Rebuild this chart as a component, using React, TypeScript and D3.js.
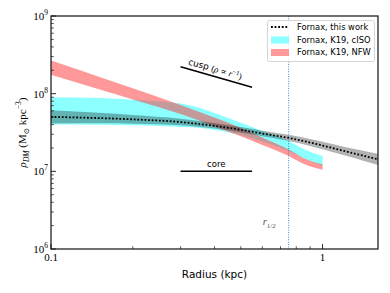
import React from "react";
import * as d3 from "d3";

// Fornax, this work (median + band)
const thisR = [0.1, 0.15, 0.2, 0.3, 0.4, 0.5, 0.6, 0.75, 0.9, 1.0, 1.2, 1.4, 1.6];
const thisMid = [5.02e7, 4.85e7, 4.67e7, 4.31e7, 3.85e7, 3.43e7, 3.07e7, 2.69e7, 2.35e7, 2.15e7, 1.83e7, 1.6e7, 1.43e7];
const thisHi = [6.12e7, 5.66e7, 5.3e7, 4.75e7, 4.18e7, 3.72e7, 3.33e7, 2.96e7, 2.61e7, 2.41e7, 2.08e7, 1.85e7, 1.68e7];
const thisLo = [4.12e7, 4.16e7, 4.11e7, 3.91e7, 3.55e7, 3.16e7, 2.83e7, 2.45e7, 2.12e7, 1.92e7, 1.61e7, 1.38e7, 1.21e7];

// K19 cISO
const isoR = [0.1, 0.15, 0.2, 0.25, 0.3, 0.35, 0.4, 0.5, 0.6, 0.75, 0.85, 1.0];
const isoHi = [8.97e7, 8.82e7, 8.38e7, 8.01e7, 7.45e7, 6.62e7, 5.62e7, 4.21e7, 3.3e7, 2.46e7, 1.94e7, 1.57e7];
const isoLo = [4.01e7, 3.98e7, 3.91e7, 3.83e7, 3.72e7, 3.63e7, 3.4e7, 2.94e7, 2.43e7, 1.83e7, 1.49e7, 1.17e7];

// K19 NFW
const nfwR = [0.1, 0.15, 0.2, 0.3, 0.4, 0.5, 0.6, 0.75, 0.85, 1.0];
const nfwHi = [2.67e8, 1.65e8, 1.17e8, 7.16e7, 4.92e7, 3.61e7, 2.73e7, 1.91e7, 1.49e7, 1.23e7];
const nfwLo = [1.75e8, 1.14e8, 8.44e7, 5.46e7, 3.78e7, 2.82e7, 2.19e7, 1.58e7, 1.25e7, 1.05e7];

const rHalf = 0.75;
const cuspR = [0.3, 0.55];
const cuspRho = [2.22e8, 1.21e8];
const coreR = [0.3, 0.55];
const coreRho = [1e7, 1e7];

const xMajor = [0.1, 1];
const xMinor = [0.2, 0.3, 0.4, 0.5, 0.6, 0.7, 0.8, 0.9];
const yMajorExp = [6, 7, 8, 9];
const legendLabels = ["Fornax, this work", "Fornax, K19, cISO", "Fornax, K19, NFW"];

const W = 390, H = 293;
const m = { left: 51, right: 12, top: 16, bottom: 44 };

const RED = "#ff2a2a";
const RED_OP = 0.48;
const CYAN = "#00ffff";
const CYAN_OP = 0.45;

export default function App() {
  const x = d3.scaleLog().domain([0.1, 1.6]).range([m.left, W - m.right]);
  const y = d3.scaleLog().domain([1e6, 1e9]).range([H - m.bottom, m.top]);

  const band = (rs: number[], lo: number[], hi: number[]) =>
    d3.area<number>()
      .x((_, i) => x(rs[i]))
      .y0((_, i) => y(lo[i]))
      .y1((_, i) => y(hi[i]))
      .curve(d3.curveMonotoneX)(rs) as string;

  const midLine = d3.line<number>()
    .x((_, i) => x(thisR[i]))
    .y((_, i) => y(thisMid[i]))
    .curve(d3.curveMonotoneX)(thisR) as string;

  const yMinor = y.ticks().filter(v => Math.abs(Math.log10(v) - Math.round(Math.log10(v))) > 1e-6);

  const x0 = m.left, x1 = W - m.right, y0 = H - m.bottom, y1 = m.top;
  const serif = "Liberation Serif, DejaVu Serif, serif";
  const sans = "DejaVu Sans, sans-serif";

  const cx0 = x(cuspR[0]), cy0 = y(cuspRho[0]), cx1 = x(cuspR[1]), cy1 = y(cuspRho[1]);
  const ang = Math.atan2(cy1 - cy0, cx1 - cx0) * 180 / Math.PI;

  return (
    <svg width={W} height={H} style={{ position: "absolute", left: 0, top: 0, background: "#fff" }}>
      <defs>
        <clipPath id="plot">
          <rect x={x0} y={y1} width={x1 - x0} height={y0 - y1} />
        </clipPath>
      </defs>
      <g clipPath="url(#plot)">
        <path d={band(isoR, isoLo, isoHi)} fill={CYAN} fillOpacity={CYAN_OP} />
        <path d={band(nfwR, nfwLo, nfwHi)} fill={RED} fillOpacity={RED_OP} />
        <path d={band(thisR, thisLo, thisHi)} fill="#000" fillOpacity={0.3} />
        <path d={midLine} fill="none" stroke="#000" strokeWidth={1.8} strokeDasharray="1.8,1.8" />
        <line x1={x(rHalf)} x2={x(rHalf)} y1={y1} y2={y0} stroke="#1f7fd0" strokeWidth={0.9} strokeDasharray="1,1.4" />
      </g>

      {/* cusp / core guides */}
      <line x1={cx0} y1={cy0} x2={cx1} y2={cy1} stroke="#000" strokeWidth={1.5} />
      <text transform={`translate(${(cx0 + cx1) / 2 - 2},${(cy0 + cy1) / 2 - 5}) rotate(${ang})`}
        textAnchor="middle" fontSize={9} fill="#000">
        <tspan fontFamily={sans}>cusp </tspan>
        <tspan fontFamily={serif}>(</tspan>
        <tspan fontFamily={serif} fontStyle="italic">ρ</tspan>
        <tspan fontFamily={serif}> ∝ </tspan>
        <tspan fontFamily={serif} fontStyle="italic">r</tspan>
        <tspan fontFamily={serif} fontSize={6.5} dy={-3.5}>−1</tspan>
        <tspan fontFamily={serif} dy={3.5}>)</tspan>
      </text>
      <line x1={x(coreR[0])} y1={y(coreRho[0])} x2={x(coreR[1])} y2={y(coreRho[1])} stroke="#000" strokeWidth={1.5} />
      <text x={(x(coreR[0]) + x(coreR[1])) / 2} y={y(coreRho[0]) - 4} textAnchor="middle"
        fontFamily={sans} fontSize={8.5}>core</text>

      <text x={x(rHalf) - 26} y={225} fontFamily={serif} fontSize={10.5} fill="#555">
        <tspan fontStyle="italic">r</tspan>
        <tspan fontSize={7} dy={2.5}>1/2</tspan>
      </text>

      {/* frame */}
      <rect x={x0} y={y1} width={x1 - x0} height={y0 - y1} fill="none" stroke="#111" strokeWidth={1.2} />

      {/* x ticks */}
      {xMajor.map(v => (
        <g key={"xM" + v}>
          <line x1={x(v)} x2={x(v)} y1={y0} y2={y0 - 5} stroke="#111" strokeWidth={0.9} />
          <text x={x(v)} y={y0 + 12} textAnchor="middle" fontFamily={serif} fontSize={11}>{v}</text>
        </g>
      ))}
      {xMinor.map(v => (
        <line key={"xm" + v} x1={x(v)} x2={x(v)} y1={y0} y2={y0 - 2.8} stroke="#111" strokeWidth={0.7} />
      ))}

      {/* y ticks */}
      {yMajorExp.map(e => (
        <g key={"yM" + e}>
          <line x1={x0} x2={x0 + 5} y1={y(10 ** e)} y2={y(10 ** e)} stroke="#111" strokeWidth={0.9} />
          <text x={x0 - 3} y={y(10 ** e) + 4} textAnchor="end" fontFamily={serif} fontSize={11}>
            10<tspan fontSize={7.5} dy={-5}>{e}</tspan>
          </text>
        </g>
      ))}
      {yMinor.map(v => (
        <line key={"ym" + v} x1={x0} x2={x0 + 2.8} y1={y(v)} y2={y(v)} stroke="#111" strokeWidth={0.7} />
      ))}

      {/* axis labels */}
      <text x={(x0 + x1) / 2} y={H - 15} textAnchor="middle" fontFamily={sans} fontSize={10.5}>Radius (kpc)</text>
      <text transform={`translate(26,${(y0 + y1) / 2}) rotate(-90)`} textAnchor="middle" fontFamily={serif} fontSize={11}>
        <tspan fontStyle="italic">ρ</tspan>
        <tspan fontStyle="italic" fontSize={7.5} dy={2.5}>DM</tspan>
        <tspan dy={-2.5}> (M</tspan>
        <tspan fontSize={7.5} dy={2.5}>⊙</tspan>
        <tspan dy={-2.5}> kpc</tspan>
        <tspan fontSize={7.5} dy={-5}>−3</tspan>
        <tspan dy={5}>)</tspan>
      </text>

      {/* legend */}
      <g>
        <rect x={267.5} y={20.5} width={107} height={41} rx={2} fill="#fff" fillOpacity={0.85} stroke="#ccc" strokeWidth={0.8} />
        <line x1={271} x2={289} y1={27} y2={27} stroke="#000" strokeWidth={1.8} strokeDasharray="1.8,1.8" />
        <rect x={271} y={36.5} width={18} height={7} fill={CYAN} fillOpacity={CYAN_OP} />
        <rect x={271} y={49} width={18} height={7} fill={RED} fillOpacity={RED_OP} />
        {legendLabels.map((t, i) => (
          <text key={t} x={297} y={30 + i * 12.6} fontFamily={sans} fontSize={8.3}>{t}</text>
        ))}
      </g>
    </svg>
  );
}
